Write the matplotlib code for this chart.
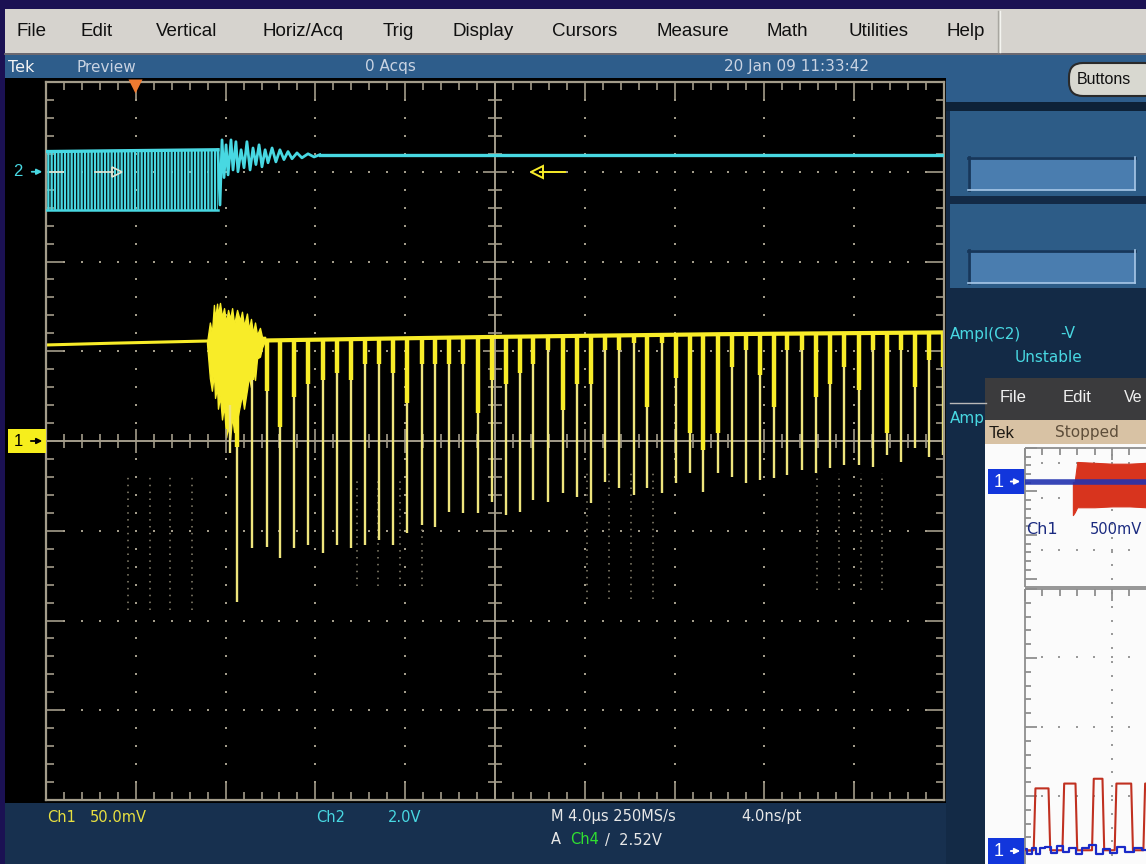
import matplotlib.pyplot as plt
from matplotlib.patches import Rectangle, FancyBboxPatch
from matplotlib.collections import LineCollection
from matplotlib.transforms import blended_transform_factory as blend
import numpy as np

plt.rcParams['font.family'] = ['Liberation Sans', 'DejaVu Sans']
plt.rcParams['hatch.linewidth'] = 1.6

W, H = 1146, 864

# ---------------- values ----------------
# time in us from the left edge of the graticule (4 us/div)
# Ch1 (yellow) in mV, 50 mV/div, marker level = 0 mV
ch1_base_t = [0.0, 3.0, 7.17]
ch1_base_mv = [53.5, 54.5, 55.7]
ch1_tail_t = [9.76, 20.0, 30.0, 40.0]
ch1_tail_mv = [56.0, 58.0, 59.5, 60.5]

# noisy burst after the trigger: upper and lower edge
burst_t = [7.17, 7.30, 7.39, 7.48, 7.53, 7.62, 7.66, 7.75, 7.84, 7.93, 8.02, 8.11, 8.20, 8.29,
           8.38, 8.51, 8.64, 8.73, 8.82, 8.95, 9.04, 9.13, 9.22, 9.31, 9.40, 9.53, 9.62, 9.76]
burst_hi = [54.6, 66.0, 60.0, 75.8, 68.0, 76.5, 70.0, 76.9, 69.0, 74.0, 66.0, 73.0, 68.0, 74.0,
            65.0, 73.0, 67.0, 72.0, 64.0, 71.0, 62.0, 68.0, 60.0, 66.0, 59.0, 63.0, 58.0, 58.0]
burst_lo = [54.6, 35.0, 28.0, 38.0, 24.0, 30.0, 18.0, 25.0, 12.0, 20.0, 2.0, 8.0, 0.6, 14.0,
            5.0, 11.7, 20.0, 26.0, 18.0, 28.4, 36.0, 30.0, 40.0, 34.0, 46.0, 47.0, 52.0, 56.0]

spike_t = [8.20, 8.51, 9.18, 9.84, 10.42, 11.05, 11.67, 12.34, 12.96, 13.59,
           14.21, 14.83, 15.46, 16.08, 16.75, 17.33, 17.95, 18.57, 19.24, 19.87,
           20.49, 21.11, 21.69, 22.36, 23.03, 23.65, 24.28, 24.90, 25.52, 26.19,
           26.77, 27.44, 28.06, 28.69, 29.27, 29.93, 30.56, 31.18, 31.80, 32.43,
           33.01, 33.67, 34.30, 34.92, 35.55, 36.21, 36.84, 37.46, 38.08, 38.71,
           39.33, 39.96]
spike_min = [-6.7, -89.7, -59.6, -59.0, -65.2, -59.6, -57.9, -62.4, -57.9, -59.6,
             -57.9, -55.1, -57.9, -51.2, -46.8, -47.9, -39.5, -40.1, -40.1, -34.0,
             -41.2, -39.5, -32.9, -34.0, -29.0, -31.2, -34.5, -22.8, -26.2, -30.1,
             -26.2, -29.0, -23.4, -17.8, -28.4, -17.8, -20.1, -23.4, -21.7, -20.6,
             -18.9, -16.2, -17.8, -15.0, -13.4, -13.4, -14.5, -7.8, -11.7, -3.9,
             -8.9, -7.8]
spike_core = [20.0, -3.3, 34.0, 28.0, 7.8, 24.5, 32.0, 34.0, 38.0, 34.0,
              43.0, 43.0, 38.0, 21.0, 43.0, 43.0, 43.0, 43.0, 15.6, 34.0,
              32.0, 38.0, 43.0, 50.7, 17.3, 32.0, 32.0, 50.7, 50.7, 54.6,
              18.9, 54.6, 35.1, 4.5, -5.0, 4.5, 41.2, 50.7, 36.8, 18.9,
              50.7, 50.7, 24.5, 32.0, 41.2, 28.4, 50.7, 4.5, 50.7, 30.0,
              45.0, 41.0]

# faint persistence columns left on the screen
ghost_t = [3.65, 4.63, 5.52, 6.50, 13.85, 14.79, 15.77, 16.75,
           24.10, 25.08, 26.06, 27.04, 34.34, 35.32, 36.30, 37.24]
ghost_top = [-17.8, -17.8, -17.8, -17.8, -20.0, -20.0, -20.0, -20.0,
             -17.8, -17.8, -17.8, -17.8, -17.8, -17.8, -17.8, -17.8]
ghost_bot = [-94.0, -94.0, -94.0, -94.0, -81.0, -81.0, -81.0, -81.0,
             -88.0, -88.0, -88.0, -88.0, -83.0, -83.0, -83.0, -83.0]

# Ch2 (cyan) in V, 2 V/div, marker level = 0 V
ch2_band_t = [0.0, 7.66]
ch2_band_hi = [0.45, 0.49]
ch2_band_lo = [-0.85, -0.85]
ch2_ring_t = [7.66, 7.75, 7.84, 7.93, 8.02, 8.11, 8.24, 8.33, 8.46, 8.55,
              8.69, 8.82, 8.95, 9.09, 9.22, 9.35, 9.49, 9.62, 9.76, 9.89,
              10.07, 10.24, 10.42, 10.60, 10.78, 10.96, 11.18, 11.40, 11.67, 11.94, 12.20]
ch2_ring_v = [0.49, -0.74, 0.71, -0.13, 0.60, -0.07, 0.71, 0.04, 0.67, 0.00,
              0.49, 0.09, 0.67, 0.04, 0.53, 0.16, 0.60, 0.11, 0.49, 0.20,
              0.53, 0.22, 0.49, 0.27, 0.45, 0.29, 0.42, 0.31, 0.40, 0.33, 0.38]
ch2_tail_t = [12.20, 40.0]
ch2_tail_v = [0.38, 0.38]

trig_pos_us = 3.96

# inset screenshot (second scope window), divisions from its Ch1 marker
red_t = [0.55, 0.57, 0.60, 0.80, 1.00, 1.20, 1.39]
red_hi = [0.00, 0.00, 0.46, 0.44, 0.42, 0.42, 0.44]
red_lo = [-0.76, -0.70, -0.58, -0.58, -0.56, -0.56, -0.58]
pulse_on = [0.10, 0.43, 0.77, 1.03, 1.36]
pulse_off = [0.28, 0.59, 0.90, 1.23, 1.45]
pulse_top = [0.90, 0.97, 1.04, 0.97, 0.97]
blue_t = [0.0, 0.05, 0.10, 0.15, 0.20, 0.27, 0.33, 0.40, 0.47, 0.55,
          0.62, 0.70, 0.78, 0.86, 0.94, 1.02, 1.10, 1.20, 1.30, 1.39]
blue_v = [0.02, -0.05, 0.04, -0.06, 0.03, 0.05, -0.04, 0.06, -0.02, 0.04,
          -0.06, 0.03, 0.07, -0.05, 0.02, -0.04, 0.05, -0.03, 0.04, 0.0]

menu_items = ['File', 'Edit', 'Vertical', 'Horiz/Acq', 'Trig', 'Display',
              'Cursors', 'Measure', 'Math', 'Utilities', 'Help']
menu_x = [17, 80, 156, 262, 383, 453, 552, 656, 767, 848, 947]

# colours
NAVY = '#1B1153'
GRAT = '#A39C8A'
YEL = '#F8EC28'
PALE = '#EEE47C'
CYAN = '#48D8E2'
STEEL = '#2E5D8B'
SCOPEFONT = ['DejaVu Sans']

fig = plt.figure(figsize=(W / 100, H / 100), dpi=100)
fig.patch.set_facecolor(NAVY)

# ---------------- window chrome (pixel coordinates) ----------------
bg = fig.add_axes([0, 0, 1, 1])
bg.set_xlim(0, W)
bg.set_ylim(H, 0)
bg.axis('off')


def box(x0, y0, x1, y1, fc, **kw):
    bg.add_patch(Rectangle((x0, y0), x1 - x0, y1 - y0, facecolor=fc, edgecolor='none', **kw))


box(5, 9, W, 53, '#D6D3CE')
bg.plot([5, W], [53.5, 53.5], color='#7C7A76', lw=1.2)
bg.plot([998, 998], [11, 52], color='#A8A6A0', lw=1)
bg.plot([999.5, 999.5], [11, 52], color='#F4F4F0', lw=1)
for name, x in zip(menu_items, menu_x):
    bg.text(x, 31, name, fontsize=13.5, color='#101010', va='center', ha='left')

box(5, 55, 946, 78, STEEL)
bg.text(8, 67, 'Tek', fontsize=11.5, color='#F4F4F4', va='center', family=SCOPEFONT)
bg.text(77, 67, 'Preview', fontsize=11, color='#C9D3E2', va='center', family=SCOPEFONT)
bg.text(365, 67, '0 Acqs', fontsize=11, color='#C9D3E2', va='center', family=SCOPEFONT)
bg.text(724, 67, '20 Jan 09 11:33:42', fontsize=11, color='#C9D3E2', va='center', family=SCOPEFONT)

box(5, 78, 946, 803, 'black')
box(5, 803, 946, H, '#17304F')

# bottom readouts
bot = dict(fontsize=10.5, va='center', family=SCOPEFONT)
bg.text(47, 817, 'Ch1', color='#E8E040', **bot)
bg.text(90, 817, '50.0mV', color='#E8E040', **bot)
bg.text(316, 817, 'Ch2', color=CYAN, **bot)
bg.text(388, 817, '2.0V', color=CYAN, **bot)
bg.text(551, 817, 'M 4.0\u00b5s 250MS/s', color='#E8E8E8', **bot)
bg.text(741, 817, '4.0ns/pt', color='#E8E8E8', **bot)
bg.text(551, 840, 'A', color='#E8E8E8', **bot)
bg.text(570, 840, 'Ch4', color='#30E030', **bot)
bg.text(605, 840, '/  2.52V', color='#E8E8E8', **bot)

# right side panel
box(946, 55, W, H, '#132A46')
box(946, 55, W, 102, STEEL)
box(946, 102, W, 111, '#0E2238')
box(950, 111, W, 196, '#2D5C87')
box(950, 204, W, 288, '#2D5C87')
for y0 in (157, 250):
    box(968, y0, 1135, y0 + 33, '#4A7DAF')
    bg.plot([968, 1135], [y0 + 1, y0 + 1], color='#17375A', lw=2)
    bg.plot([969, 969], [y0, y0 + 33], color='#17375A', lw=2)
    bg.plot([968, 1135], [y0 + 32.5, y0 + 32.5], color='#A8C8E8', lw=1.2)
    bg.plot([1134.5, 1134.5], [y0, y0 + 33], color='#A8C8E8', lw=1.2)
bg.add_patch(FancyBboxPatch((1069, 63), 90, 33, boxstyle='round,pad=0,rounding_size=14',
                            facecolor='#D8D8D0', edgecolor='#2A2A2A', lw=1.5))
bg.text(1077, 80, 'Buttons', fontsize=11.5, color='#101010', va='center')

bg.text(950, 334, 'Ampl(C2)', fontsize=11, color=CYAN, va='center', family=SCOPEFONT)
bg.text(1060, 334, '-V', fontsize=11, color=CYAN, va='center', family=SCOPEFONT)
bg.text(1015, 358, 'Unstable', fontsize=11, color=CYAN, va='center', family=SCOPEFONT)
bg.plot([950, 986], [403, 403], color='#B8B8B8', lw=1)
bg.text(950, 419, 'Amp', fontsize=11, color=CYAN, va='center', family=SCOPEFONT)

# second scope window overlapping the corner
box(985, 378, W, 420, '#3B3B3D')
bg.text(1000, 398, 'File', fontsize=12, color='#F0F0F0', va='center')
bg.text(1063, 398, 'Edit', fontsize=12, color='#F0F0F0', va='center')
bg.text(1124, 398, 'Ve', fontsize=11.5, color='#F0F0F0', va='center')
box(985, 420, W, 444, '#D8C2A4')
bg.text(989, 433, 'Tek', fontsize=12, color='#1E1A14', va='center')
bg.text(1055, 433, 'Stopped', fontsize=11, color='#5E4E3A', va='center', family=SCOPEFONT)
box(985, 444, W, H, '#FBFBFB')

IG = '#8E8E8E'
iseg = []
for top, bottom, step, major in ((448, 587, 8.7, 43.5), (589, 864, 13.8, 69.0)):
    iseg.append([(1025, top), (1025, bottom)])
    iseg.append([(1025, top), (W, top)])
    k = 0
    y = top
    while y < bottom:
        L = 12 if k % 5 == 0 else 6
        iseg.append([(1025, y), (1025 + L, y)])
        y += step
        k += 1
    x = 1025
    k = 0
    while x < W:
        L = 12 if k % 5 == 0 else 7
        iseg.append([(x, top), (x, top + L)])
        x += 17.4
        k += 1
iseg.append([(1025, 587), (W, 587)])
bg.add_collection(LineCollection(iseg, colors=IG, linewidths=1.3))
dots_x, dots_y = [], []
for yy in (463, 498, 550, 657, 727, 796):
    for xx in np.arange(1042, W, 17.4):
        dots_x.append(xx)
        dots_y.append(yy)
for yy in np.arange(455, 864, 13.8):
    dots_x.append(1112)
    dots_y.append(yy)
bg.scatter(dots_x, dots_y, s=2, c='#9A9A9A', marker='s', linewidths=0)
bg.text(1026, 530, 'Ch1', fontsize=11.5, color='#1A2A80', va='center', family=SCOPEFONT)
bg.text(1090, 530, '500mV', fontsize=10.5, color='#1A2A80', va='center', family=SCOPEFONT)

for y0, y1 in ((469, 494), (838, 864)):
    box(988, y0, 1025, y1, '#1236DC')
    bg.text(994, (y0 + y1) / 2 + 1, '1', fontsize=13, color='white', va='center')
    bg.annotate('', xy=(1023, (y0 + y1) / 2), xytext=(1008, (y0 + y1) / 2),
                arrowprops=dict(arrowstyle='-|>', color='white', lw=1.3, mutation_scale=8))

# inset waveforms
ins1 = fig.add_axes([1025 / W, 1 - 587 / H, 121 / W, 139 / H])
ins1.set_xlim(0, 1.39)
ins1.set_ylim(-2.41, 0.78)
ins1.axis('off')
ins1.fill_between(red_t, red_lo, red_hi, color='#D8341E', lw=0.8)
ins1.plot([0, 1.39], [0, 0], color='#2232B0', lw=4, alpha=0.9)

ins2 = fig.add_axes([1025 / W, 0, 121 / W, 275 / H])
ins2.set_xlim(0, 1.39)
ins2.set_ylim(-0.20, 3.80)
ins2.axis('off')
px, py = [0.0], [0.0]
for on, off, top in zip(pulse_on, pulse_off, pulse_top):
    px += [on, on + 0.02, off - 0.01, off + 0.01]
    py += [0.0, top, top, 0.0]
ins2.plot(px, py, color='#C03020', lw=1.5)
ins2.plot(blue_t, blue_v, color='#1A2AC8', lw=1.6, drawstyle='steps-mid')

# ---------------- the scope graticule ----------------
ax = fig.add_axes([46 / W, 1 - 800 / H, 898 / W, 718 / H])
ax.set_xlim(0, 40)
ax.set_ylim(-200, 200)
ax.set_facecolor('black')
ax.set_xticks([])
ax.set_yticks([])
for s in ax.spines.values():
    s.set_color(GRAT)
    s.set_linewidth(1.6)

segs = []
for t in np.arange(0, 40.01, 0.8):
    major = abs(t / 4 - round(t / 4)) < 1e-6
    L = 10.6 if major else 4.5
    segs.append([(t, 200), (t, 200 - L)])
    segs.append([(t, -200), (t, -200 + L)])
    c = 6.7 if major else 3.9
    segs.append([(t, -c), (t, c)])
for v in np.arange(-200, 200.01, 10):
    major = abs(v % 50) < 1e-6
    L = 0.85 if major else 0.36
    segs.append([(0, v), (L, v)])
    segs.append([(40, v), (40 - L, v)])
    c = 0.53 if major else 0.31
    segs.append([(20 - c, v), (20 + c, v)])
ax.add_collection(LineCollection(segs, colors=GRAT, linewidths=1.2))
ax.axhline(0, color=GRAT, lw=1.4)
ax.axvline(20, color=GRAT, lw=1.4)

gx, gy = [], []
for t in range(4, 40, 4):
    if t == 20:
        continue
    for v in np.arange(-200, 201, 10):
        gx.append(t)
        gy.append(v)
for v in range(-150, 151, 50):
    if v == 0:
        continue
    for t in np.arange(0.8, 40, 0.8):
        gx.append(t)
        gy.append(v)
ax.scatter(gx, gy, s=2.6, c=GRAT, marker='s', linewidths=0)

ax.vlines(ghost_t, ghost_bot, ghost_top, colors='#8C8672', lw=1.1, linestyles=(0, (1, 3.5)))

# Ch1 trace
ax.plot(ch1_base_t, ch1_base_mv, color=YEL, lw=2.2)
ax.plot(ch1_tail_t, ch1_tail_mv, color=YEL, lw=3.0)
ax.fill_between(burst_t, burst_lo, burst_hi, color=YEL, lw=1.0)
spike_top = np.interp(spike_t, ch1_base_t + ch1_tail_t, ch1_base_mv + ch1_tail_mv)
ax.vlines(spike_t, spike_min, spike_top, colors=PALE, lw=1.7)
ax.vlines(spike_t, spike_core, spike_top, colors=YEL, lw=3.2)

# trigger position marker
ax.plot([trig_pos_us], [0.994], marker='v', ms=10, color='#F07A30', mec='none',
        transform=blend(ax.transData, ax.transAxes), clip_on=False, zorder=6)

# Ch1 ground marker
tl1 = blend(ax.transAxes, ax.transData)
ax.add_patch(Rectangle((-0.0423, -6.6), 0.0423, 13.2, transform=tl1, facecolor='#F6EE1C',
                       edgecolor='none', clip_on=False, zorder=5))
ax.text(-0.036, 0, '1', transform=tl1, fontsize=12, color='black', va='center', ha='left', zorder=6)
ax.annotate('', xy=(-0.001, 0), xytext=(-0.02, 0), xycoords=tl1, textcoords=tl1,
            arrowprops=dict(arrowstyle='-|>', color='black', lw=1.3, mutation_scale=8),
            annotation_clip=False, zorder=6)

# Ch2 trace
ax2 = ax.twinx()
ax2.set_ylim(-14, 2)
ax2.axis('off')
ax2.fill_between(ch2_band_t, ch2_band_lo, ch2_band_hi, facecolor='none', edgecolor=CYAN,
                 hatch='|||||', lw=0)
ax2.plot(ch2_band_t, ch2_band_hi, color=CYAN, lw=2.4)
ax2.plot(ch2_band_t, ch2_band_lo, color=CYAN, lw=1.8)
ax2.plot(ch2_ring_t, ch2_ring_v, color=CYAN, lw=2.0)
ax2.plot(ch2_tail_t, ch2_tail_v, color=CYAN, lw=2.4)

tl2 = blend(ax.transAxes, ax2.transData)
ax2.text(-0.031, 0, '2', transform=tl2, fontsize=12, color=CYAN, va='center', ha='center')
ax2.annotate('', xy=(-0.001, 0), xytext=(-0.019, 0), xycoords=tl2, textcoords=tl2,
             arrowprops=dict(arrowstyle='-|>', color=CYAN, lw=1.3, mutation_scale=8),
             annotation_clip=False)

# reference and trigger level markers at the Ch2 level
ax2.plot([0.2, 0.75], [0, 0], color='#E6E6D2', lw=1.2)
ax2.plot([2.2, 3.0], [0, 0], color='#E6E6D2', lw=1.2)
ax2.plot([3.15], [0], marker='>', ms=7, mfc='none', mec='#E6E6D2', mew=1.2)
ax2.plot([22.0, 23.1], [0, 0], color=YEL, lw=1.4)
ax2.plot([21.85], [0], marker='<', ms=8, mfc='none', mec=YEL, mew=1.4)

fig.savefig('out.png', dpi=100, facecolor=fig.get_facecolor())
